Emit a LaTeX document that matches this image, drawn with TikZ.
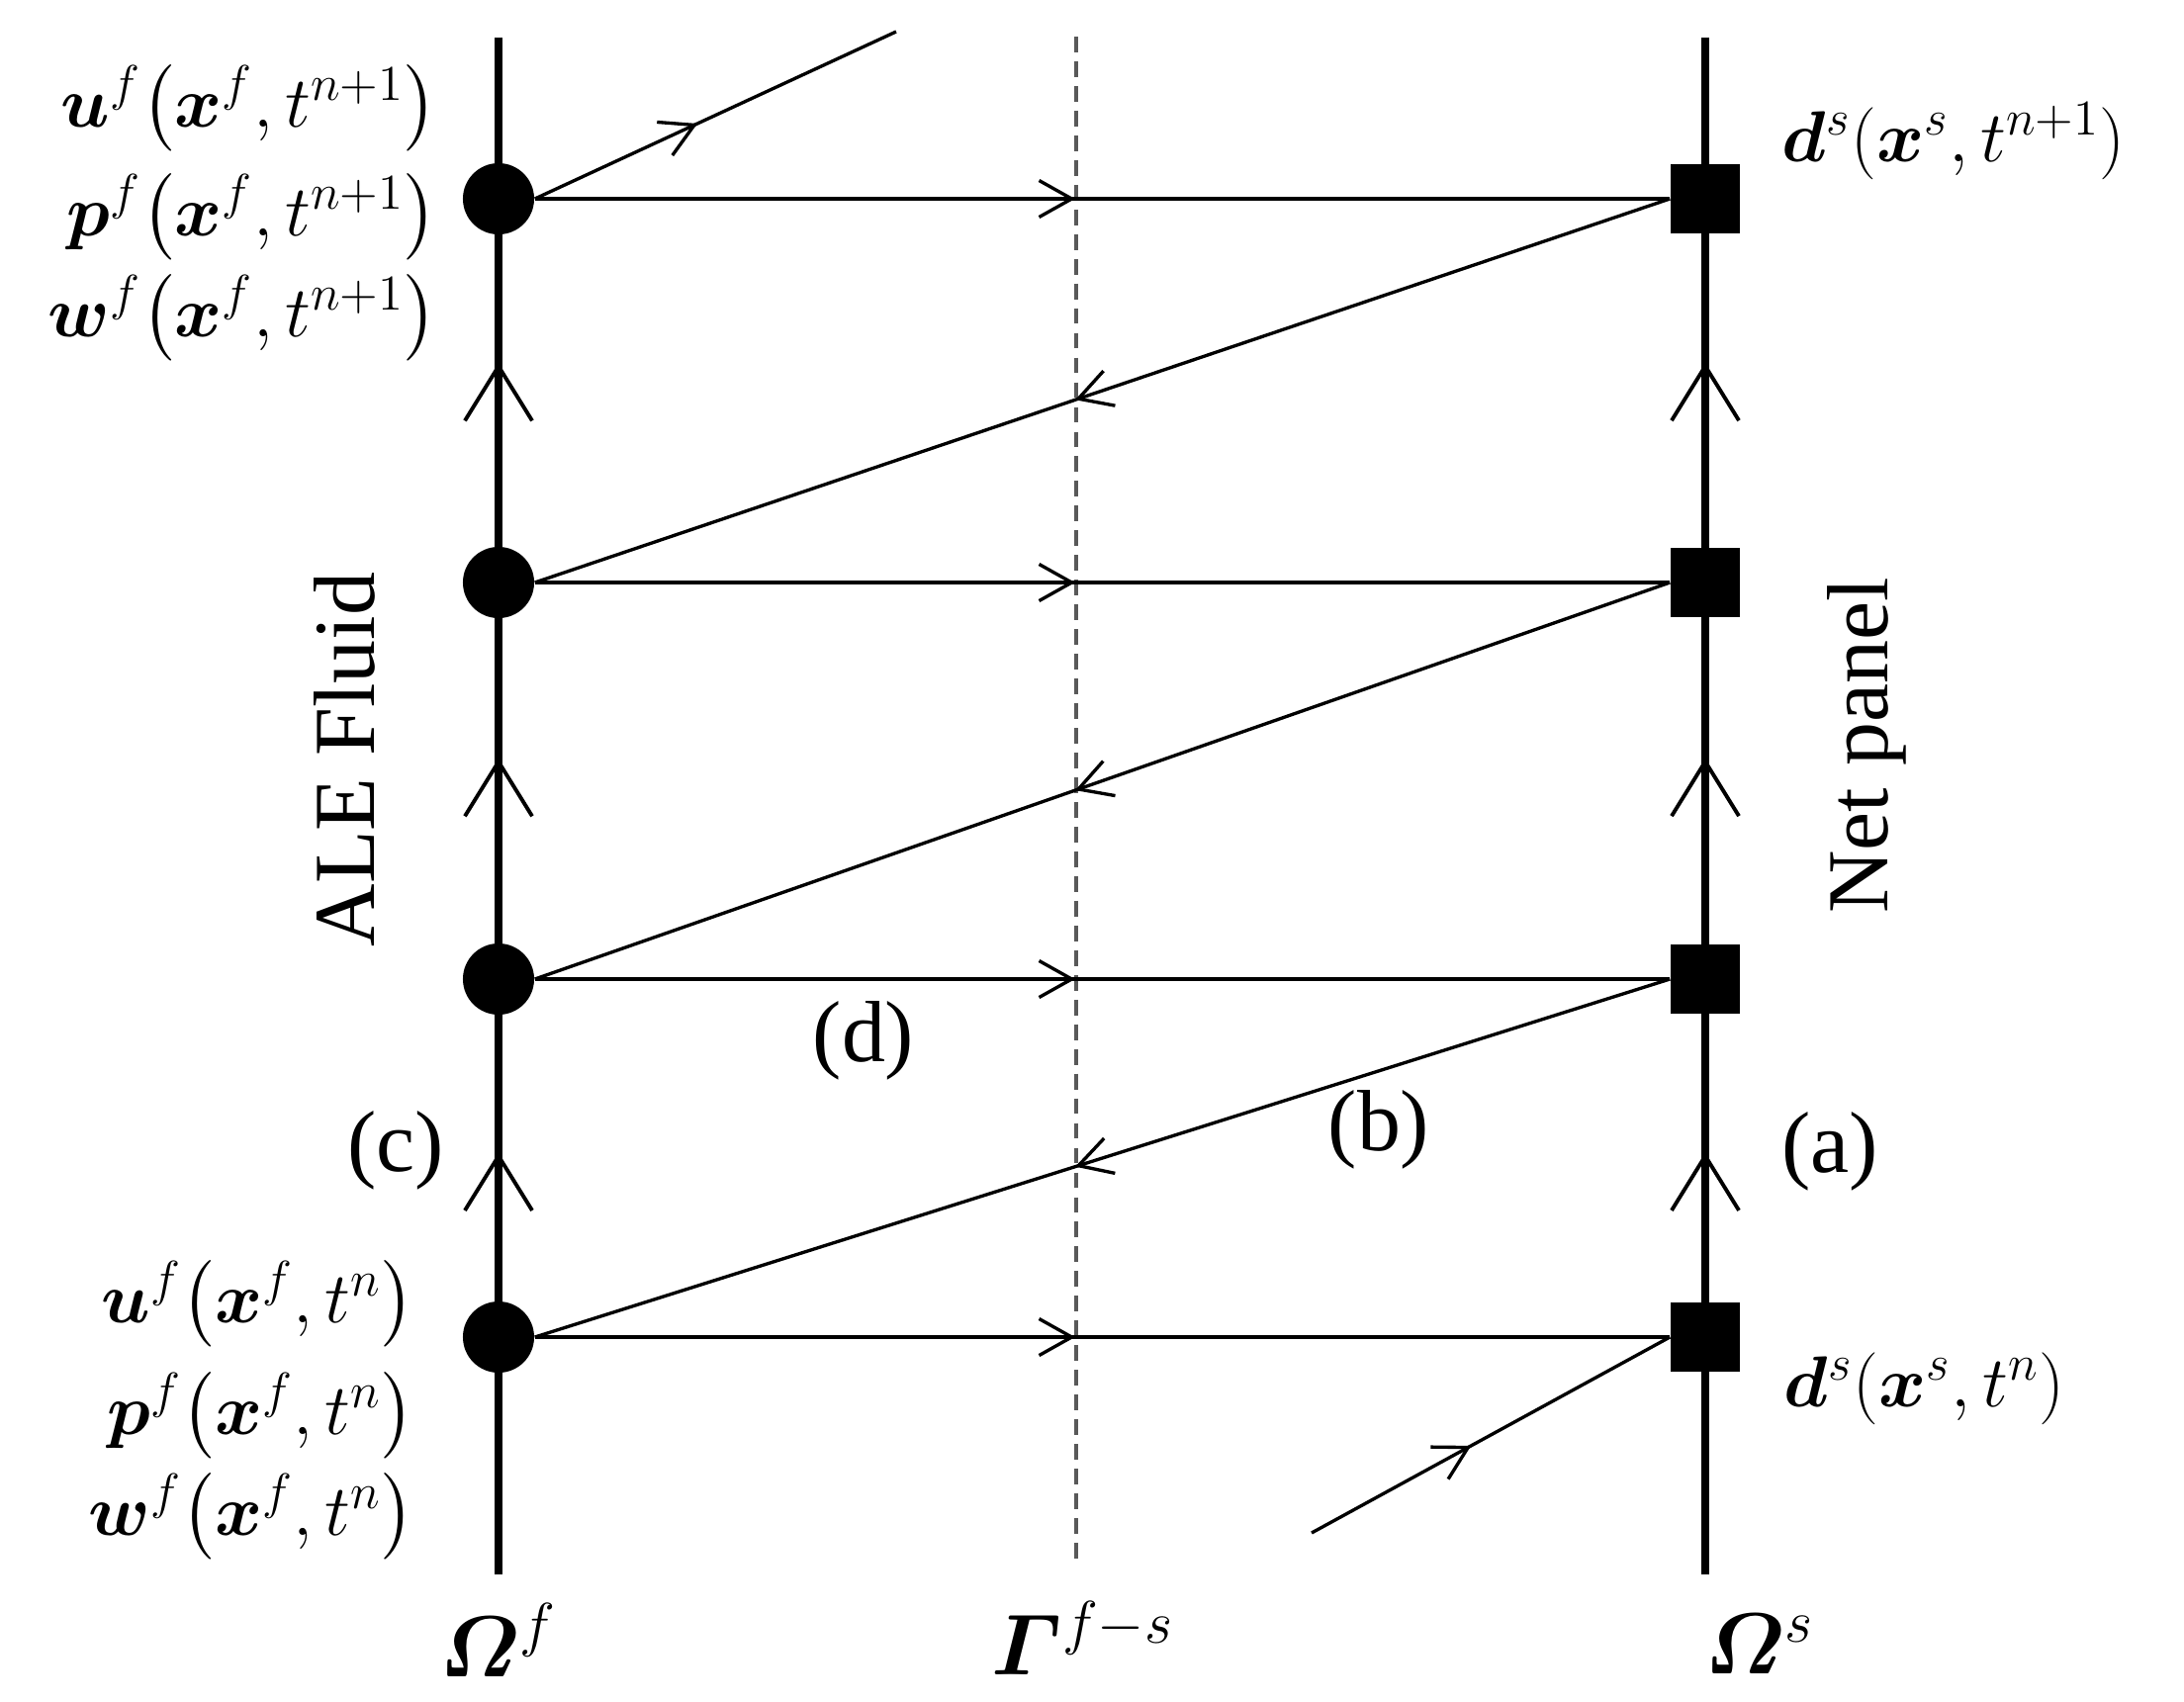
\documentclass[tikz,border=0pt]{standalone}
\usepackage{amsmath}
\usepackage{fontspec}
\setmainfont{Liberation Serif}
\usepackage{bm}
\usetikzlibrary{arrows.meta, decorations.markings, positioning}

\begin{document}
\begin{tikzpicture}[x=0.01cm, y=-0.01cm,
  timeline/.style={line width=2.3pt},
  fnode/.style={circle, fill=black, inner sep=0pt, minimum size=0.72cm},
  snode/.style={rectangle, fill=black, inner sep=0pt, minimum size=0.70cm},
  flow/.style={line width=0.95pt, postaction={decorate}, decoration={markings, mark=at position #1 with {\arrow[line width=0.95pt]{Straight Barb[length=0.33cm, width=0.37cm]}}}},
  march/.style={timeline, postaction={decorate}, decoration={markings, mark=at position #1 with {\arrow[line width=1.1pt]{Straight Barb[length=0.55cm, width=0.68cm]}}}},
  eq/.style={font=\fontsize{23}{28}\selectfont, inner sep=0pt},
  feq/.style={font=\fontsize{21.5}{26}\selectfont, inner sep=0pt, anchor=base east},
  seq/.style={font=\fontsize{22.5}{27}\selectfont, inner sep=0pt, anchor=base west},
  lbl/.style={font=\fontsize{25}{30}\selectfont, inner sep=0pt}]
  \useasboundingbox (0,0) rectangle (2208,1720);

  \coordinate (fTop) at (504,38);
  \coordinate (fBot) at (504,1592);
  \coordinate (sTop) at (1724,38);
  \coordinate (sBot) at (1724,1592);
  \coordinate (gTop) at (1088,37);
  \coordinate (gBot) at (1088,1583);
  \coordinate (inF) at (906,32);
  \coordinate (inS) at (1326,1550);

  \node[fnode] (f1) at (504,201) {};
  \node[fnode] (f2) at (504,589) {};
  \node[fnode] (f3) at (504,990) {};
  \node[fnode] (f4) at (504,1352) {};
  \node[snode] (s1) at (1724,201) {};
  \node[snode] (s2) at (1724,589) {};
  \node[snode] (s3) at (1724,990) {};
  \node[snode] (s4) at (1724,1352) {};

  \draw[timeline] (fBot) -- (fTop);
  \draw[timeline] (sBot) -- (sTop);
  \draw[march=0.52] (f4) -- (f3);
  \draw[march=0.57] (f3) -- (f2);
  \draw[march=0.59] (f2) -- (f1);
  \draw[march=0.52] (s4) -- (s3);
  \draw[march=0.57] (s3) -- (s2);
  \draw[march=0.59] (s2) -- (s1);
  \draw[black!65, line width=1.1pt, dash pattern=on 4.5pt off 2.6pt] (gTop) -- (gBot);

  \draw[flow=0.476] (f1.east) -- (s1.west);
  \draw[flow=0.476] (f2.east) -- (s2.west);
  \draw[flow=0.476] (f3.east) -- (s3.west);
  \draw[flow=0.476] (f4.east) -- (s4.west);
  \draw[flow=0.524] (s1.west) -- (f2.east);
  \draw[flow=0.524] (s2.west) -- (f3.east);
  \draw[flow=0.524] (s3.west) -- (f4.east);
  \draw[flow=0.45] (f1.east) -- (inF);
  \draw[flow=0.445] (inS) -- (s4.west);

  \node[feq] (uf1) at (443,128) {$\bm{u}^f\bigl(\bm{x}^f,t^{n+1}\bigr)$};
  \node[feq] (pf1) at (443,238) {$\bm{p}^f\bigl(\bm{x}^f,t^{n+1}\bigr)$};
  \node[feq] (wf1) at (443,340) {$\bm{w}^f\bigl(\bm{x}^f,t^{n+1}\bigr)$};
  \node[feq] (uf4) at (420,1337) {$\bm{u}^f\bigl(\bm{x}^f,t^{n}\bigr)$};
  \node[feq] (pf4) at (420,1450) {$\bm{p}^f\bigl(\bm{x}^f,t^{n}\bigr)$};
  \node[feq] (wf4) at (420,1552) {$\bm{w}^f\bigl(\bm{x}^f,t^{n}\bigr)$};
  \node[seq] (ds1) at (1801,163) {$\bm{d}^s(\bm{x}^s,t^{n+1})$};
  \node[seq] (ds4) at (1803,1422) {$\bm{d}^s(\bm{x}^s,t^{n})$};

  \node[eq, anchor=base west] (omf) at (444,1695) {$\bm{\varOmega}^f$};
  \node[eq, anchor=base west] (gam) at (1002,1693) {$\bm{\varGamma}^{f-s}$};
  \node[eq, anchor=base west] (oms) at (1723,1692) {$\bm{\varOmega}^s$};

  \node[lbl, rotate=90] (ale) at (348,768) {ALE Fluid};
  \node[lbl, rotate=90] (net) at (1887,754) {Net panel};
  \node[lbl] (la) at (1850,1164) {(a)};
  \node[lbl] (lb) at (1394,1142) {(b)};
  \node[lbl] (lc) at (400,1163) {(c)};
  \node[lbl] (ld) at (873,1052) {(d)};
\end{tikzpicture}
\end{document}
